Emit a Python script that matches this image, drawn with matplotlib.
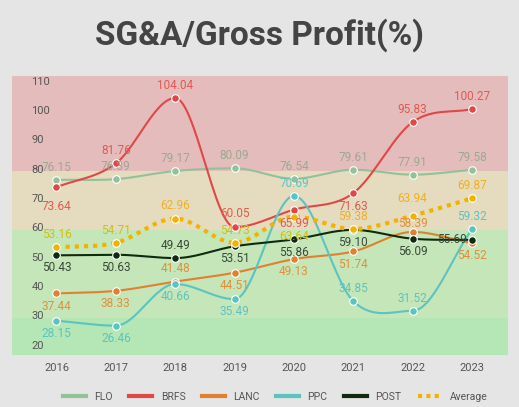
import numpy as np
import matplotlib
matplotlib.use("Agg")
import matplotlib.pyplot as plt
from matplotlib.lines import Line2D

plt.rcParams['font.family'] = ['Roboto', 'DejaVu Sans']

years = ['2016', '2017', '2018', '2019', '2020', '2021', '2022', '2023']
FLO = [76.15, 76.39, 79.17, 80.09, 76.54, 79.61, 77.91, 79.58]
BRFS = [73.64, 81.76, 104.04, 60.05, 65.99, 71.63, 95.83, 100.27]
LANC = [37.44, 38.33, 41.48, 44.51, 49.13, 51.74, 58.39, 54.52]
PPC = [28.15, 26.46, 40.66, 35.49, 70.69, 34.85, 31.52, 59.32]
POST = [50.43, 50.63, 49.49, 53.51, 55.86, 59.10, 56.09, 55.69]
AVG = [53.16, 54.71, 62.96, 54.73, 63.64, 59.38, 63.94, 69.87]

def smooth(y, n=30):
    y = np.asarray(y, float)
    x = np.arange(len(y))
    m = np.gradient(y)
    d = np.diff(y)
    for i in range(1, len(y) - 1):
        if d[i-1] * d[i] <= 0:
            m[i] = 0
    xs, ys = [], []
    for i in range(len(y) - 1):
        t = np.linspace(0, 1, n)
        h00 = 2*t**3 - 3*t**2 + 1; h10 = t**3 - 2*t**2 + t
        h01 = -2*t**3 + 3*t**2; h11 = t**3 - t**2
        xs.append(x[i] + t)
        ys.append(h00*y[i] + h10*m[i] + h01*y[i+1] + h11*m[i+1])
    return np.concatenate(xs), np.concatenate(ys)

fig = plt.figure(figsize=(5.19, 4.07), dpi=100, facecolor='#e5e5e5')
ax = fig.add_axes([0.023, 0.128, 0.955, 0.685])
ax.set_facecolor('#e5e5e5')
ax.set_xlim(-0.75, 7.6)
ax.set_ylim(16.5, 111.5)
ax.axhspan(79, 111.5, color='#e4bcbc', lw=0)
ax.axhspan(59, 79, color='#e5dbbf', lw=0)
ax.axhspan(29, 59, color='#c5e6b8', lw=0)
ax.axhspan(16.5, 29, color='#b5e6b5', lw=0)

series = [
    ('FLO', FLO, '#93c29a', '#9aaa90', [1, 1, 1, 1, 1, 1, 1, 1]),
    ('BRFS', BRFS, '#e04848', '#e05a50', [-1.5, 1, 1, 1.1, -1.1, -1.1, 1, 1]),
    ('LANC', LANC, '#e08030', '#e0903a', [-1, -1, 1, -1, -1, -1, 0.7, -1]),
    ('PPC', PPC, '#5cc4c0', '#5cc4c0', [-1, -1, -1, -1, 1, 1, 1, 1]),
    ('POST', POST, '#102a10', '#3a4a3a', [-1, -1, 1, -1, -1, -1, -1, 0]),
]
x = np.arange(len(years))
for name, vals, col, tcol, offs in series:
    xs, ys = smooth(vals)
    ax.plot(xs, ys, color=col, lw=1.5, zorder=3)
    ax.scatter(x, vals, s=30, color=col, edgecolor='white', linewidth=0.8, zorder=4)
    for xi, v, o in zip(x, vals, offs):
        if o == 0:
            ax.text(xi - 0.08, v, f'{v:.2f}', color=tcol, fontsize=8.5, ha='right', va='center', zorder=5)
        else:
            ax.text(xi, v + o * 4.3, f'{v:.2f}', color=tcol, fontsize=8.5, ha='center', va='center', zorder=5)

xs, ys = smooth(AVG)
ax.plot(xs, ys, color='#f0b400', lw=3, ls=(0, (1, 1.2)), zorder=3)
ax.scatter(x, AVG, s=30, color='#f0b400', edgecolor='white', linewidth=0.8, zorder=4)
avg_cols = ['#d0c010', '#d0c010', '#f0b020', '#d0c010', '#d0c010', '#f0b020', '#f0b020', '#f0b020']
avg_offs = [1, 1, 1, 1, -1.6, 1, 1.4, 1]
for xi, v, c, o in zip(x, AVG, avg_cols, avg_offs):
    ax.text(xi, v + o * 4.3, f'{v:.2f}', color=c, fontsize=8.5, ha='center', va='center', zorder=5)

ax.set_xticks(x)
ax.set_xticklabels(years, color='#555555', fontsize=8)
ax.set_yticks(range(20, 111, 10))
ax.tick_params(axis='y', direction='in', pad=-14, length=0, labelsize=8, labelcolor='#555555')
ax.tick_params(axis='x', length=0, pad=6)
for lbl in ax.get_yticklabels():
    lbl.set_horizontalalignment('left')
for s in ax.spines.values():
    s.set_visible(False)

handles = [Line2D([], [], color=c, lw=3) for _, _, c, _, _ in series]
handles.append(Line2D([], [], color='#f0b400', lw=3, ls=(0, (1, 1))))
fig.legend(handles, ['FLO', 'BRFS', 'LANC', 'PPC', 'POST', 'Average'], loc='lower center',
           bbox_to_anchor=(0.53, -0.01), ncol=6, frameon=False, fontsize=7.5,
           handlelength=2.2, columnspacing=1.6, labelcolor='#555555')

fig.text(0.5, 0.915, 'SG&A/Gross Profit(%)', ha='center', va='center', fontsize=24,
         fontweight='bold', color='#444444')
fig.savefig('out.png', dpi=100, facecolor=fig.get_facecolor())
